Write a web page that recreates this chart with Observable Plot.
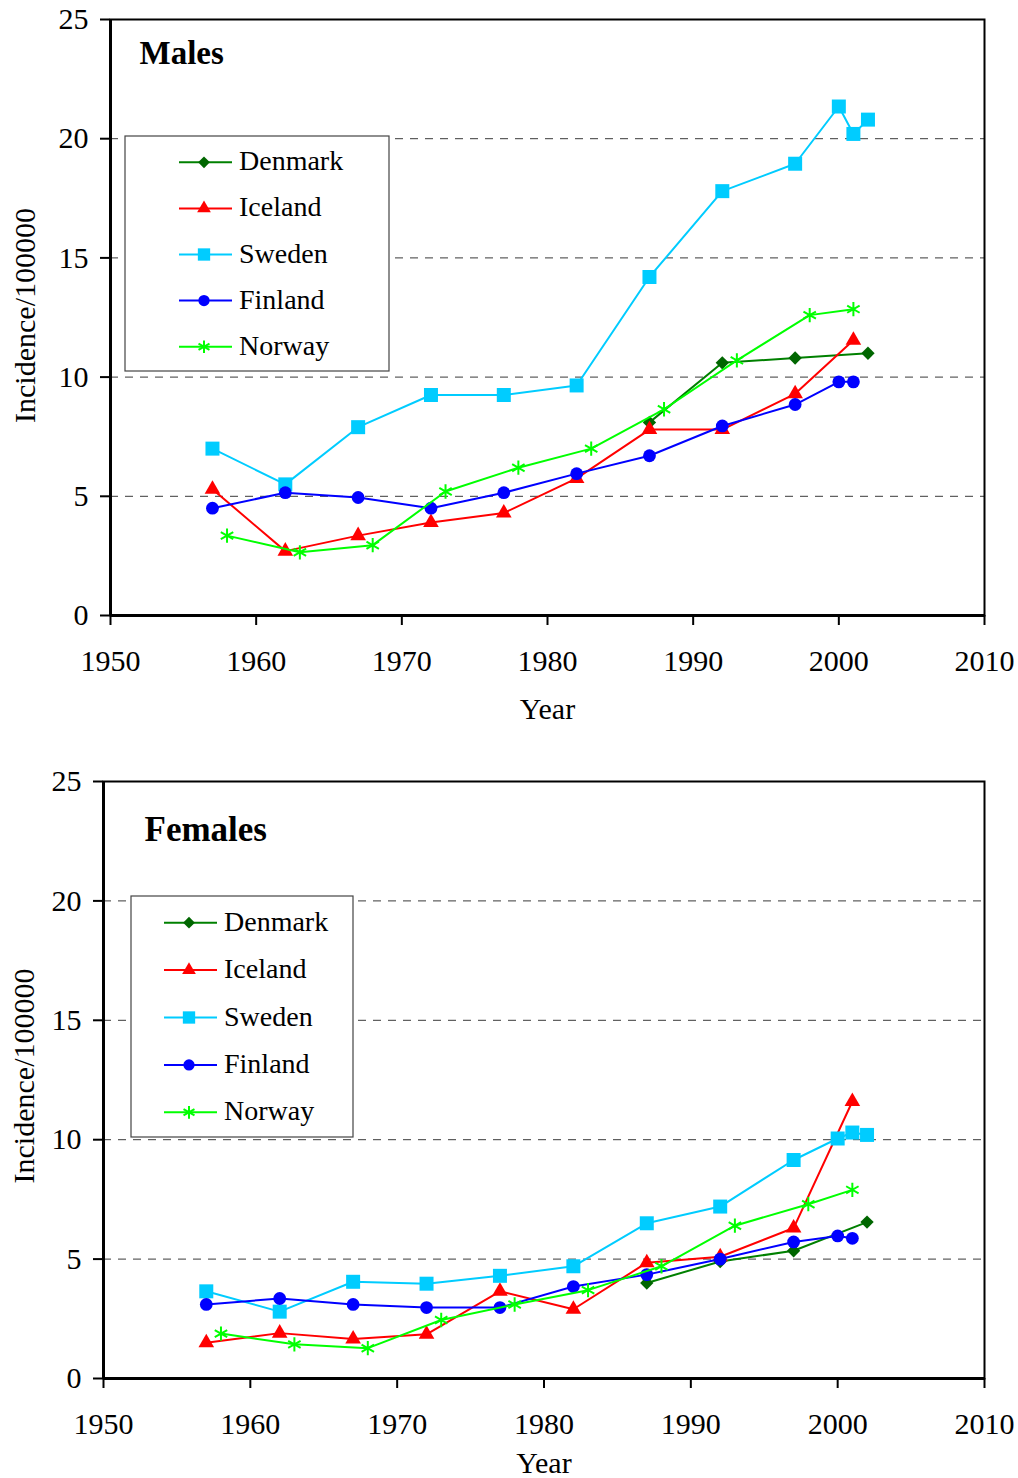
<!DOCTYPE html>
<html>
<head>
<meta charset="utf-8">
<script src="https://cdn.jsdelivr.net/npm/d3@7"></script>
<script src="https://cdn.jsdelivr.net/npm/@observablehq/plot@0.6"></script>
<style>
  body { margin: 0; background: #fff; }
  #wrap { position: relative; width: 1018px; height: 1478px; font-family: "Liberation Serif", "Times New Roman", serif; overflow: hidden; }
  .panel { position: absolute; left: 0; }
  .panel text { font-family: "Liberation Serif", "Times New Roman", serif; }
  .legend { position: absolute; }
</style>
</head>
<body>
<div id="wrap"></div>
<script>
// ---------- data ----------
const countries = ["Denmark", "Iceland", "Sweden", "Finland", "Norway"];

const denmarkYears = [1987, 1992, 1997, 2002];
const icelandYears = [1957, 1962, 1967, 1972, 1977, 1982, 1987, 1992, 1997, 2001];
const swedenYears  = [1957, 1962, 1967, 1972, 1977, 1982, 1987, 1992, 1997, 2000, 2001, 2002];
const finlandYears = [1957, 1962, 1967, 1972, 1977, 1982, 1987, 1992, 1997, 2000, 2001];
const norwayYears  = [1958, 1963, 1968, 1973, 1978, 1983, 1988, 1993, 1998, 2001];

const malesDenmark = [8.1, 10.6, 10.8, 11.0];
const malesIceland = [5.3, 2.7, 3.35, 3.9, 4.3, 5.75, 7.8, 7.8, 9.3, 11.55];
const malesSweden  = [7.0, 5.5, 7.9, 9.25, 9.25, 9.65, 14.2, 17.8, 18.95, 21.35, 20.2, 20.8];
const malesFinland = [4.5, 5.15, 4.95, 4.5, 5.15, 5.95, 6.7, 7.95, 8.85, 9.8, 9.8];
const malesNorway  = [3.35, 2.65, 2.95, 5.2, 6.2, 7.0, 8.65, 10.7, 12.6, 12.85];

const femalesDenmark = [4.0, 4.9, 5.35, 6.55];
const femalesIceland = [1.5, 1.9, 1.65, 1.85, 3.65, 2.9, 4.85, 5.1, 6.3, 11.6];
const femalesSweden  = [3.65, 2.8, 4.05, 3.97, 4.3, 4.7, 6.5, 7.2, 9.15, 10.05, 10.3, 10.2];
const femalesFinland = [3.1, 3.35, 3.1, 2.97, 2.97, 3.85, 4.35, 5.0, 5.72, 5.97, 5.87];
const femalesNorway  = [1.88, 1.43, 1.27, 2.45, 3.1, 3.7, 4.7, 6.4, 7.3, 7.9];

const xTicks = [1950, 1960, 1970, 1980, 1990, 2000, 2010];
const yTicks = [0, 5, 10, 15, 20, 25];
const gridValues = [5, 10, 15, 20];
const yLabel = "Incidence/100000";
const xLabel = "Year";

// ---------- styles ----------
const FONT = '"Liberation Serif", "Times New Roman", serif';
const styles = {
  Denmark: {line: "#008000", mark: "#006600", symbol: "diamond2", r: 6.0},
  Iceland: {line: "#ff0000", mark: "#ff0000", symbol: "triangle", r: 5.8},
  Sweden:  {line: "#00ccff", mark: "#00ccff", symbol: "square", r: 7.9},
  Finland: {line: "#0000ff", mark: "#0000ff", symbol: "circle", r: 6.4},
  Norway:  {line: "#00ff00", mark: "#00ff00", symbol: "asterisk", r: 6.8}
};

function buildRows(years, values) {
  return years.map((y, i) => ({year: y, value: values[i]}));
}

const malesData = {
  Denmark: buildRows(denmarkYears, malesDenmark),
  Iceland: buildRows(icelandYears, malesIceland),
  Sweden: buildRows(swedenYears, malesSweden),
  Finland: buildRows(finlandYears, malesFinland),
  Norway: buildRows(norwayYears, malesNorway)
};
const femalesData = {
  Denmark: buildRows(denmarkYears, femalesDenmark),
  Iceland: buildRows(icelandYears, femalesIceland),
  Sweden: buildRows(swedenYears, femalesSweden),
  Finland: buildRows(finlandYears, femalesFinland),
  Norway: buildRows(norwayYears, femalesNorway)
};

function seriesMarks(dataByCountry) {
  const marks = [];
  for (const c of countries) {
    const s = styles[c];
    const rows = dataByCountry[c];
    marks.push(Plot.line(rows, {x: "year", y: "value", stroke: s.line, strokeWidth: 2}));
    if (s.symbol === "asterisk") {
      marks.push(Plot.dot(rows, {x: "year", y: "value", symbol: s.symbol, r: s.r, stroke: s.mark, strokeWidth: 2, fill: "none"}));
    } else {
      marks.push(Plot.dot(rows, {x: "year", y: "value", symbol: s.symbol, r: s.r, fill: s.mark, stroke: "none"}));
    }
  }
  return marks;
}

function panel(cfg) {
  return Plot.plot({
    width: 1018,
    height: cfg.height,
    marginLeft: cfg.ml,
    marginRight: cfg.mr,
    marginTop: cfg.mt,
    marginBottom: cfg.mb,
    style: {fontFamily: FONT, fontSize: "30px", color: "#000", background: "transparent", overflow: "visible"},
    x: {domain: [1950, 2010]},
    y: {domain: [0, 25]},
    marks: [
      Plot.ruleY(gridValues, {stroke: "#3a3a3a", strokeWidth: 1, strokeDasharray: "8,7"}),
      Plot.frame({stroke: "#000", strokeWidth: 2}),
      Plot.axisX({ticks: xTicks, tickFormat: d => String(d), tickSize: 10, tickPadding: 24, strokeWidth: 2, label: null, fontSize: 30, fontFamily: FONT}),
      Plot.axisY({ticks: yTicks, tickFormat: d => String(d), tickSize: 10, tickPadding: 12, strokeWidth: 2, label: null, fontSize: 30, fontFamily: FONT}),
      Plot.ruleX([1950], {stroke: "#000", strokeWidth: 3}),
      Plot.ruleY([0], {stroke: "#000", strokeWidth: 3}),
      ...seriesMarks(cfg.data),
      Plot.text([xLabel], {frameAnchor: "bottom", dy: cfg.xlabDy, lineAnchor: "top", textAnchor: "middle", text: d => d, fontSize: 30, fontFamily: FONT}),
      Plot.text([yLabel], {frameAnchor: "left", dx: cfg.ylabDx, dy: cfg.ylabDy, rotate: -90, lineAnchor: "middle", textAnchor: "middle", text: d => d, fontSize: 30, fontFamily: FONT}),
      Plot.text([cfg.title], {frameAnchor: "top-left", dx: cfg.titleDx, dy: cfg.titleDy, textAnchor: "start", lineAnchor: "bottom", text: d => d, fontSize: cfg.titleSize, fontWeight: "bold", fontFamily: FONT})
    ]
  });
}

function legend(cfg) {
  const ns = "http://www.w3.org/2000/svg";
  const svg = document.createElementNS(ns, "svg");
  svg.setAttribute("width", cfg.w + 2);
  svg.setAttribute("height", cfg.h + 2);
  svg.setAttribute("class", "legend");
  svg.style.left = (cfg.left - 1) + "px";
  svg.style.top = (cfg.top - 1) + "px";
  const rect = document.createElementNS(ns, "rect");
  rect.setAttribute("x", 1); rect.setAttribute("y", 1);
  rect.setAttribute("width", cfg.w); rect.setAttribute("height", cfg.h);
  rect.setAttribute("fill", "#fff"); rect.setAttribute("stroke", "#444"); rect.setAttribute("stroke-width", 1.2);
  svg.appendChild(rect);
  const symMap = {diamond2: d3.symbolDiamond2, triangle: d3.symbolTriangle, square: d3.symbolSquare, circle: d3.symbolCircle, asterisk: d3.symbolAsterisk};
  countries.forEach((c, i) => {
    const s = styles[c];
    const y = 1 + cfg.firstY + i * cfg.step;
    const ln = document.createElementNS(ns, "line");
    ln.setAttribute("x1", 1 + cfg.lx1); ln.setAttribute("x2", 1 + cfg.lx2);
    ln.setAttribute("y1", y); ln.setAttribute("y2", y);
    ln.setAttribute("stroke", s.line); ln.setAttribute("stroke-width", 2);
    svg.appendChild(ln);
    const p = document.createElementNS(ns, "path");
    const r = s.r * 0.88;
    p.setAttribute("d", d3.symbol(symMap[s.symbol], Math.PI * r * r)());
    p.setAttribute("transform", `translate(${1 + cfg.mx},${y})`);
    if (s.symbol === "asterisk") { p.setAttribute("fill", "none"); p.setAttribute("stroke", s.mark); p.setAttribute("stroke-width", 2); }
    else p.setAttribute("fill", s.mark);
    svg.appendChild(p);
    const t = document.createElementNS(ns, "text");
    t.setAttribute("x", 1 + cfg.tx); t.setAttribute("y", y + 8);
    t.setAttribute("font-family", FONT); t.setAttribute("font-size", 28);
    t.textContent = c;
    svg.appendChild(t);
  });
  return svg;
}

const wrap = document.getElementById("wrap");

const topPanel = panel({height: 740, ml: 110, mr: 34, mt: 19, mb: 125, data: malesData,
  xlabDy: 82, ylabDx: -85, ylabDy: -2, title: "Males", titleDx: 29, titleDy: 44, titleSize: 33});
topPanel.classList.add("panel"); topPanel.style.top = "0px";
wrap.appendChild(topPanel);

const bottomPanel = panel({height: 738, ml: 103, mr: 34, mt: 41, mb: 100, data: femalesData,
  xlabDy: 73, ylabDx: -79, ylabDy: -4, title: "Females", titleDx: 41, titleDy: 59, titleSize: 35});
bottomPanel.classList.add("panel"); bottomPanel.style.top = "740px";
wrap.appendChild(bottomPanel);

wrap.appendChild(legend({left: 125, top: 136, w: 264, h: 235, firstY: 26.3, step: 46.1, lx1: 54, lx2: 107, mx: 79, tx: 114}));
wrap.appendChild(legend({left: 131, top: 896, w: 222, h: 241, firstY: 26.7, step: 47.4, lx1: 33, lx2: 86, mx: 58, tx: 93}));
</script>
</body>
</html>
